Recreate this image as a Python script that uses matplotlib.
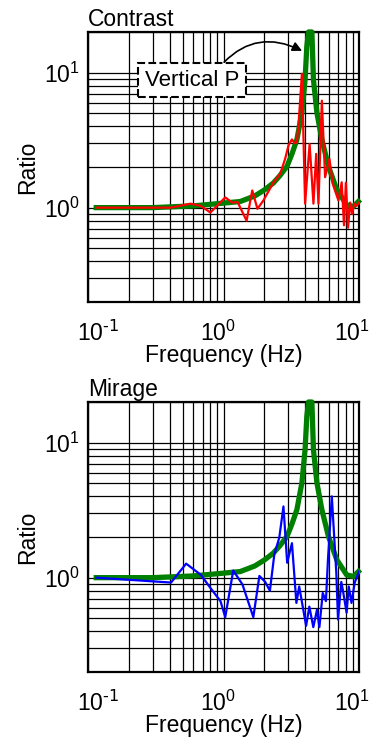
import numpy as np
import matplotlib
matplotlib.use("Agg")
import matplotlib.pyplot as plt
from matplotlib.transforms import ScaledTranslation

plt.rcParams["font.family"] = ["Liberation Sans", "DejaVu Sans"]

# model response (green), same in both panels
model_freq = [0.115, 0.3, 0.6, 1.0, 1.33, 1.7, 2.0, 2.33, 2.6, 2.94, 3.2, 3.48, 3.79, 4.0,
              4.12, 4.24, 4.36, 4.49, 4.61, 4.89, 5.32, 5.95, 6.85, 8.1, 9.1, 9.9]
model_ratio = [1.0, 1.0, 1.03, 1.08, 1.11, 1.22, 1.35, 1.52, 1.72, 2.02, 2.5, 3.19, 5.05, 8.9,
               15.6, 30.0, 60.0, 30.0, 8.9, 5.05, 3.19, 2.02, 1.36, 1.05, 1.02, 1.11]

# Contrast measurement (red)
contrast_freq = [0.115, 0.2, 0.41, 0.57, 0.68, 0.80, 1.03, 1.16, 1.27, 1.48, 1.63, 1.78, 1.97,
                 2.33, 2.62, 2.85, 3.02, 3.2, 3.35, 3.48, 3.6, 3.79, 4.0, 4.32, 4.61, 4.83,
                 5.02, 5.32, 5.62, 6.05, 6.4, 7.05, 7.45, 7.75, 8.0, 8.3, 8.6, 8.9, 9.2, 9.6,
                 10.0]
contrast_ratio = [1.0, 1.0, 1.0, 1.07, 1.03, 0.92, 1.19, 1.09, 1.1, 0.8, 1.34, 0.98, 1.13,
                  1.53, 1.78, 2.3, 2.9, 3.2, 3.0, 3.05, 4.5, 9.8, 1.07, 2.96, 1.07, 2.5,
                  1.07, 6.2, 1.68, 2.3, 1.5, 1.13, 1.54, 0.74, 1.53, 0.71, 1.09, 0.9, 1.07,
                  1.03, 1.09]

# Mirage measurement (blue)
mirage_freq = [0.115, 0.41, 0.53, 0.68, 0.8, 0.95, 1.03, 1.18, 1.38, 1.66, 1.84, 2.03, 2.2,
               2.37, 2.58, 2.77, 2.95, 3.2, 3.45, 3.62, 4.07, 4.3, 4.6, 4.9, 5.1, 5.4, 5.7,
               5.9, 6.3, 6.8, 7.0, 7.4, 7.6, 8.1, 8.4, 8.8, 9.3, 10.0]
mirage_ratio = [1.0, 0.92, 1.27, 1.05, 0.84, 0.67, 0.51, 1.13, 0.89, 0.51, 1.03, 0.93, 0.80,
                1.48, 1.98, 3.37, 1.29, 1.8, 0.65, 0.86, 0.44, 0.61, 0.43, 0.58, 0.43, 0.77,
                0.67, 1.36, 4.0, 1.09, 0.49, 0.93, 0.81, 0.55, 0.86, 0.65, 0.92, 1.11]

x_limits = (0.1, 10)
y_limits = (0.2, 20)
x_decades = [0.1, 1, 10]
x_tick_labels = ["$\\mathdefault{10^{\\text{-1}}}$", "$\\mathdefault{10^{0}}$",
                 "$\\mathdefault{10^{1}}$"]
x_label_shift = [10, -6, -7]  # px, to sit the labels like the original


def setup_axes(fig, ax, title):
    ax.set_xscale("log")
    ax.set_yscale("log")
    ax.set_xlim(*x_limits)
    ax.set_ylim(*y_limits)
    ax.grid(True, which="both", color="black", linewidth=0.9)
    ax.set_axisbelow(True)
    ax.tick_params(which="both", length=0, labelsize=16.5, pad=6)
    ax.set_xticks(x_decades)
    ax.set_xticklabels([""] * len(x_decades))
    for spine in ax.spines.values():
        spine.set_linewidth(1.6)

    # x tick labels drawn by hand so they can be nudged
    for xv, lab, dx in zip(x_decades, x_tick_labels, x_label_shift):
        off = ScaledTranslation(dx / 100, -39 / 100, fig.dpi_scale_trans)
        ax.text(xv, 0, lab, transform=ax.get_xaxis_transform() + off,
                ha="center", va="baseline", fontsize=16.5)

    ax.set_xlabel("Frequency (Hz)", fontsize=16.5, labelpad=24)
    ax.set_ylabel("Ratio", fontsize=16.5, labelpad=3)
    ax.set_title(title, loc="left", fontsize=16.5, pad=4)


def plot_model(ax):
    top = y_limits[1]
    ax.plot(model_freq, np.minimum(model_ratio, top), color="#008000",
            linewidth=3.8, clip_on=False, zorder=3)


def main():
    fig = plt.figure(figsize=(3.82, 7.42), dpi=100)
    ax1 = fig.add_axes([0.2304, 0.593, 0.7094, 0.3639])
    ax2 = fig.add_axes([0.2304, 0.0943, 0.7094, 0.3639])

    setup_axes(fig, ax1, "Contrast")
    plot_model(ax1)
    ax1.plot(contrast_freq, contrast_ratio, color="red", linewidth=1.6, zorder=4)

    ax1.annotate("Vertical P", xy=(0.79, 0.93), xycoords="axes fraction",
                 xytext=(0.384, 0.822), textcoords="axes fraction",
                 ha="center", va="center", fontsize=16,
                 bbox=dict(boxstyle="square,pad=0.3", fc="white", ec="black",
                           ls="--", lw=1.5),
                 arrowprops=dict(arrowstyle="-|>", color="black", lw=1.2,
                                 mutation_scale=14, relpos=(0.77, 1.0),
                                 connectionstyle="arc3,rad=-0.4",
                                 shrinkA=0, shrinkB=0),
                 zorder=5)

    setup_axes(fig, ax2, "Mirage")
    plot_model(ax2)
    ax2.plot(mirage_freq, mirage_ratio, color="blue", linewidth=1.6, zorder=4)

    fig.savefig("out.png", dpi=100)


if __name__ == "__main__":
    main()
